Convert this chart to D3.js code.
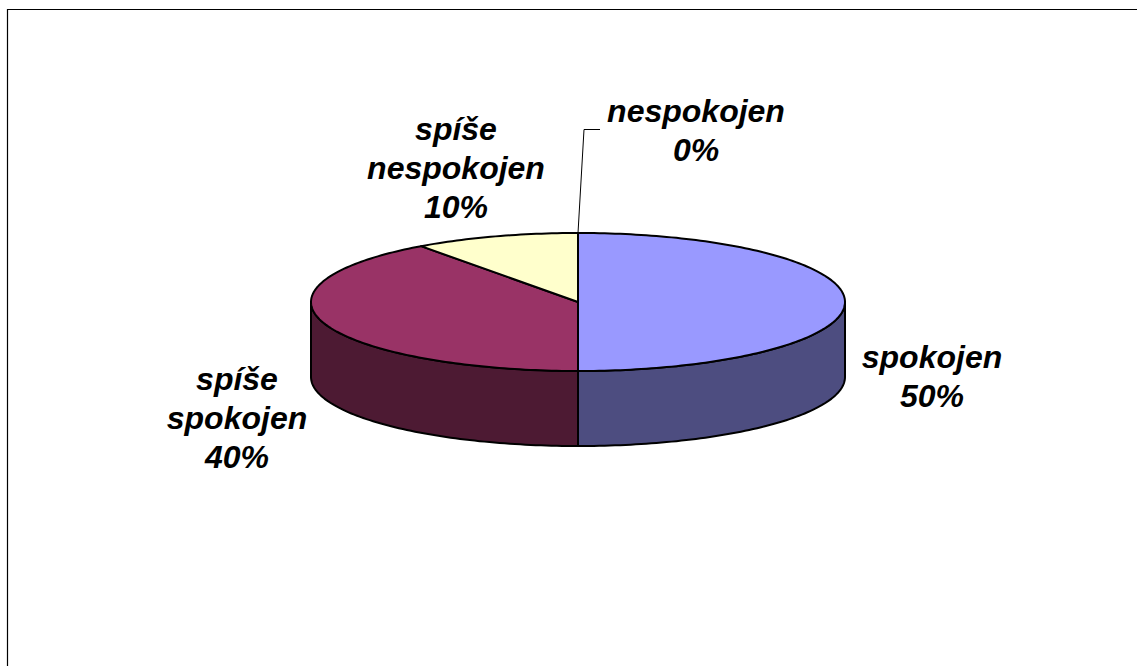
<!DOCTYPE html>
<html>
<head>
<meta charset="utf-8">
<script src="https://cdn.jsdelivr.net/npm/d3@7"></script>
<style>
html, body { margin: 0; padding: 0; background: #fff; }
svg { display: block; }
text { font-family: "Liberation Sans", Arial, sans-serif; font-weight: bold; font-style: italic; font-size: 32px; fill: #000; }
</style>
</head>
<body>
<svg></svg>
<script>
const categories = ["spokojen", "spíše spokojen", "spíše nespokojen", "nespokojen"];
const values = [50, 40, 10, 0];
const topColors = ["#9999ff", "#993366", "#ffffcc", "#ffffff"];
const sideColors = ["#4d4d80", "#4d1a33", "#80806a", "#808080"];

const WIDTH = 1137, HEIGHT = 666;
const CX = 578, CY = 302, RX = 267, RY = 69, DEPTH = 75;

const svg = d3.select('svg').attr('width', WIDTH).attr('height', HEIGHT);

//frame, only top and left show in the picture
svg.append('path')
  .attr('d', `M7.5,${HEIGHT}V9.5H${WIDTH}`)
  .attr('fill', 'none').attr('stroke', '#000').attr('stroke-width', 1.2);

const slices = d3.pie().sort(null).value(d => d)(values);

// pie angle -> squashed ellipse
const px = a => CX + RX * Math.sin(a);
const py = a => CY - RY * Math.cos(a);

function arcPoints(a0, a1) {
  const n = Math.max(2, Math.ceil(Math.abs(a1 - a0) / 0.02));
  return d3.range(n + 1).map(i => a0 + (a1 - a0) * i / n).map(a => [px(a), py(a)]);
}

const line = d3.line();

// side wall, only the front half (angles 90deg..270deg) is visible
const sides = svg.append('g');
slices.forEach((s, i) => {
  const a0 = Math.max(s.startAngle, Math.PI / 2);
  const a1 = Math.min(s.endAngle, 3 * Math.PI / 2);
  if (a1 <= a0) return;
  const upper = arcPoints(a0, a1);
  const lower = upper.map(p => [p[0], p[1] + DEPTH]).reverse();
  sides.append('path')
    .attr('d', line(upper.concat(lower)) + 'Z')
    .attr('fill', sideColors[i])
    .attr('stroke', '#000').attr('stroke-width', 2).attr('stroke-linejoin', 'round');
});

// top face
const tops = svg.append('g');
slices.forEach((s, i) => {
  if (s.endAngle === s.startAngle) return;
  tops.append('path')
    .attr('d', line([[CX, CY]].concat(arcPoints(s.startAngle, s.endAngle))) + 'Z')
    .attr('fill', topColors[i])
    .attr('stroke', '#000').attr('stroke-width', 2).attr('stroke-linejoin', 'round');
});

// leader for the 0% slice
svg.append('path')
  .attr('d', `M${px(0)},${py(0)}L584,129.5H600`)
  .attr('fill', 'none').attr('stroke', '#000').attr('stroke-width', 1);

// labels
const labelLines = [
  [categories[0]],
  ["spíše", "spokojen"],
  ["spíše", "nespokojen"],
  [categories[3]]
];
const labelPos = [[932, 368], [237, 390], [456, 140], [696, 122]];
const LINE_H = 39;

labelLines.forEach((rows, i) => {
  const t = svg.append('text').attr('text-anchor', 'middle');
  rows.concat([values[i] + '%']).forEach((r, j) => {
    t.append('tspan')
      .attr('x', labelPos[i][0])
      .attr('y', labelPos[i][1] + j * LINE_H)
      .text(r);
  });
});
</script>
</body>
</html>
